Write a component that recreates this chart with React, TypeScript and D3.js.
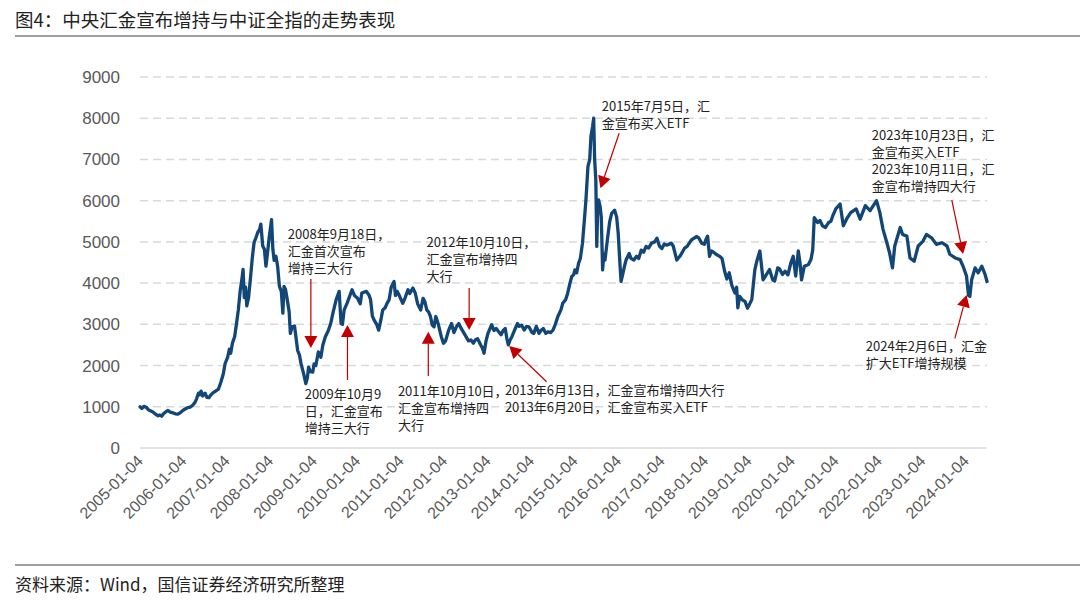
import React from "react";
import * as d3 from "d3";

const TITLE = "图4：中央汇金宣布增持与中证全指的走势表现";
const SOURCE = "资料来源：Wind，国信证券经济研究所整理";

const yTicks = [0, 1000, 2000, 3000, 4000, 5000, 6000, 7000, 8000, 9000];
const xTickLabels = [
  "2005-01-04", "2006-01-04", "2007-01-04", "2008-01-04", "2009-01-04",
  "2010-01-04", "2011-01-04", "2012-01-04", "2013-01-04", "2014-01-04",
  "2015-01-04", "2016-01-04", "2017-01-04", "2018-01-04", "2019-01-04",
  "2020-01-04", "2021-01-04", "2022-01-04", "2023-01-04", "2024-01-04",
];

// 中证全指
const dates2005_2009 = [
  "2005-01-04", "2005-01-20", "2005-02-05", "2005-02-25", "2005-03-15", "2005-04-05", "2005-04-25", "2005-05-15",
  "2005-06-05", "2005-06-20", "2005-07-05", "2005-07-20", "2005-08-10", "2005-08-25", "2005-09-15", "2005-10-10",
  "2005-10-28", "2005-11-15", "2005-12-05", "2005-12-25", "2006-01-15", "2006-02-10", "2006-03-01", "2006-03-20",
  "2006-04-10", "2006-04-25", "2006-05-10", "2006-05-20", "2006-06-01", "2006-06-15", "2006-07-05", "2006-07-20",
  "2006-08-05", "2006-08-25", "2006-09-15", "2006-10-10", "2006-10-25", "2006-11-15", "2006-12-05", "2006-12-20",
  "2007-01-10", "2007-01-25", "2007-02-05", "2007-02-20", "2007-03-10", "2007-03-25", "2007-04-10", "2007-04-25",
  "2007-05-10", "2007-05-20", "2007-05-30", "2007-06-10", "2007-06-20", "2007-07-05", "2007-07-20", "2007-08-05",
  "2007-08-20", "2007-09-05", "2007-09-20", "2007-10-05", "2007-10-16", "2007-11-01", "2007-11-15", "2007-11-28",
  "2007-12-10", "2007-12-25", "2008-01-14", "2008-01-25", "2008-02-05", "2008-02-20", "2008-03-05", "2008-03-20",
  "2008-04-05", "2008-04-18", "2008-04-28", "2008-05-10", "2008-05-25", "2008-06-10", "2008-06-20", "2008-07-05",
  "2008-07-25", "2008-08-10", "2008-08-20", "2008-09-05", "2008-09-18", "2008-10-10", "2008-10-28", "2008-11-10",
  "2008-11-20", "2008-12-05", "2008-12-25", "2009-01-05", "2009-01-20", "2009-02-10", "2009-03-03", "2009-03-20",
  "2009-04-10", "2009-05-05", "2009-05-25", "2009-06-15", "2009-07-10", "2009-08-04", "2009-08-20", "2009-09-01",
  "2009-09-15", "2009-10-09", "2009-11-20", "2009-12-10",
];
const values2005_2009 = [
  1000, 960, 1010, 990, 930, 900, 870, 820,
  780, 800, 770, 830, 880, 910, 870, 850,
  830, 820, 850, 900, 940, 980, 990, 1030,
  1100, 1200, 1330, 1290, 1380, 1260, 1330, 1230,
  1220, 1300, 1350, 1400, 1430, 1600, 1800, 2050,
  2200, 2400, 2300, 2550, 2700, 3000, 3350, 3800,
  4100, 4330, 3650, 3900, 3450, 3650, 4090, 4600,
  4980, 5100, 5230, 5300, 5430, 4900, 4820, 4410,
  4700, 5100, 5540, 4820, 4550, 4650, 4410, 3920,
  3800, 3270, 3920, 3850, 3600, 3300, 2780, 2940,
  2960, 2600, 2370, 2250, 2040, 1800, 1560, 1700,
  1960, 1850, 1840, 2040, 2000, 2330, 2200, 2500,
  2700, 2850, 3020, 3300, 3600, 3800, 3020, 3000,
  3350, 3510, 3840, 3700,
];

const dates2010_2014 = [
  "2010-01-04", "2010-01-28", "2010-02-10", "2010-03-20", "2010-04-10", "2010-04-25", "2010-05-10", "2010-05-25",
  "2010-06-15", "2010-07-02", "2010-07-20", "2010-08-05", "2010-08-25", "2010-09-10", "2010-09-28", "2010-10-15",
  "2010-11-08", "2010-11-20", "2010-12-05", "2010-12-25", "2011-01-20", "2011-02-10", "2011-03-05", "2011-03-20",
  "2011-04-15", "2011-05-05", "2011-05-25", "2011-06-20", "2011-07-10", "2011-07-25", "2011-08-10", "2011-08-25",
  "2011-09-10", "2011-09-25", "2011-10-10", "2011-10-25", "2011-11-15", "2011-12-10", "2011-12-28", "2012-01-15",
  "2012-02-10", "2012-03-05", "2012-03-25", "2012-04-15", "2012-05-05", "2012-05-25", "2012-06-15", "2012-07-05",
  "2012-07-25", "2012-08-15", "2012-09-05", "2012-09-20", "2012-10-10", "2012-11-05", "2012-11-20", "2012-12-03",
  "2012-12-20", "2013-01-05", "2013-02-05", "2013-02-25", "2013-03-15", "2013-04-05", "2013-04-25", "2013-05-15",
  "2013-05-30", "2013-06-13", "2013-06-25", "2013-07-10", "2013-07-25", "2013-08-15", "2013-09-10", "2013-09-25",
  "2013-10-15", "2013-11-05", "2013-11-25", "2013-12-15", "2014-01-10", "2014-01-25", "2014-02-15", "2014-03-10",
  "2014-03-25", "2014-04-15", "2014-05-05", "2014-05-25", "2014-06-15", "2014-07-05", "2014-07-25", "2014-08-15",
  "2014-09-10", "2014-09-25", "2014-10-20", "2014-11-05", "2014-11-25", "2014-12-10", "2014-12-25",
];
const values2010_2014 = [
  3640, 3500, 3760, 3800, 3720, 3600, 3200, 3100,
  3000, 2860, 3100, 3350, 3400, 3510, 3600, 3900,
  4040, 3700, 3800, 3680, 3510, 3650, 3840, 3750,
  3880, 3760, 3500, 3350, 3630, 3550, 3350, 3300,
  3190, 2980, 2940, 3190, 3000, 2700, 2540, 2600,
  2860, 3020, 2800, 2940, 3020, 2900, 2800, 2700,
  2600, 2620, 2540, 2620, 2650, 2500, 2420, 2300,
  2600, 2780, 2990, 2850, 2900, 2820, 2750, 2860,
  2900, 2650, 2500, 2620, 2700, 2850, 3020, 2950,
  2980, 2860, 2950, 2940, 2800, 2780, 2950, 2780,
  2850, 2900, 2780, 2820, 2800, 2860, 3000, 3190,
  3350, 3510, 3600, 3750, 4000, 4160, 4200,
];

const dates2015_2019 = [
  "2015-01-05", "2015-01-20", "2015-02-05", "2015-02-20", "2015-03-10", "2015-03-25", "2015-04-08", "2015-04-25",
  "2015-05-10", "2015-05-20", "2015-06-03", "2015-06-12", "2015-06-20", "2015-06-30", "2015-07-08", "2015-07-15",
  "2015-07-23", "2015-08-05", "2015-08-15", "2015-08-26", "2015-09-05", "2015-09-15", "2015-10-05", "2015-10-25",
  "2015-11-10", "2015-12-05", "2015-12-22", "2016-01-04", "2016-01-20", "2016-01-28", "2016-02-10", "2016-02-25",
  "2016-03-10", "2016-04-05", "2016-04-20", "2016-05-15", "2016-06-05", "2016-06-25", "2016-07-15", "2016-08-05",
  "2016-08-25", "2016-09-15", "2016-10-10", "2016-11-05", "2016-11-25", "2016-12-15", "2017-01-05", "2017-01-25",
  "2017-02-15", "2017-03-25", "2017-04-10", "2017-05-10", "2017-06-05", "2017-06-20", "2017-07-15", "2017-08-05",
  "2017-09-10", "2017-10-25", "2017-11-10", "2017-12-05", "2017-12-28", "2018-01-10", "2018-01-24", "2018-02-09",
  "2018-02-25", "2018-03-15", "2018-04-05", "2018-05-05", "2018-05-25", "2018-06-15", "2018-07-05", "2018-07-25",
  "2018-08-15", "2018-09-10", "2018-09-25", "2018-10-05", "2018-10-20", "2018-11-10", "2018-12-05", "2018-12-25",
  "2019-01-05", "2019-01-30", "2019-02-25", "2019-03-15", "2019-04-08", "2019-05-05", "2019-05-25", "2019-06-28",
  "2019-07-25", "2019-08-10", "2019-09-05", "2019-09-20", "2019-10-15", "2019-11-05", "2019-11-30", "2019-12-25",
];
const values2015_2019 = [
  4320, 4250, 4480, 4600, 4970, 5500, 6020, 6830,
  7000, 7560, 7800, 8000, 7000, 6500, 4890, 5700,
  6020, 5860, 5600, 4320, 4700, 4560, 5050, 5500,
  5690, 5770, 5600, 5210, 4400, 4040, 4200, 4400,
  4560, 4720, 4600, 4560, 4650, 4600, 4800, 4750,
  4890, 4850, 4970, 5000, 5090, 4900, 4840, 4950,
  4920, 4970, 4900, 4560, 4650, 4720, 4850, 4890,
  5050, 5130, 5100, 4970, 4940, 5060, 5140, 4650,
  4780, 4750, 4700, 4650, 4600, 4300, 4100, 4250,
  3950, 3760, 3900, 3400, 3680, 3600, 3550, 3390,
  3450, 3600, 4330, 4550, 4780, 4080, 4170, 4330,
  4080, 4050, 4370, 4350, 4210, 4290, 4200, 4500,
];

const dates2020_2024 = [
  "2020-01-13", "2020-02-03", "2020-02-25", "2020-03-10", "2020-03-23", "2020-04-15", "2020-05-20", "2020-06-10",
  "2020-06-25", "2020-07-08", "2020-08-05", "2020-08-25", "2020-09-15", "2020-10-10", "2020-11-05", "2020-11-25",
  "2020-12-10", "2021-01-05", "2021-02-10", "2021-03-09", "2021-04-05", "2021-05-10", "2021-06-25", "2021-07-28",
  "2021-09-10", "2021-10-20", "2021-12-13", "2022-01-10", "2022-02-05", "2022-03-10", "2022-04-01", "2022-04-26",
  "2022-05-15", "2022-06-30", "2022-07-20", "2022-08-25", "2022-09-20", "2022-10-25", "2022-11-28", "2023-01-08",
  "2023-02-05", "2023-03-20", "2023-04-30", "2023-06-15", "2023-07-28", "2023-08-20", "2023-10-05", "2023-11-15",
  "2023-12-10", "2024-01-08", "2024-01-25", "2024-02-05", "2024-02-20", "2024-03-20", "2024-04-15", "2024-05-15",
  "2024-06-12", "2024-06-28",
];
const values2020_2024 = [
  4650, 4170, 4780, 4500, 4080, 4410, 4450, 4570,
  4800, 5590, 5470, 5520, 5390, 5350, 5470, 5500,
  5630, 5800, 5920, 5390, 5550, 5710, 5800, 5550,
  5880, 5760, 6000, 5710, 5310, 4980, 4740, 4370,
  4900, 5350, 5180, 5140, 4610, 4530, 4900, 5020,
  5180, 5100, 4940, 4980, 4900, 4700, 4610, 4570,
  4410, 4170, 3700, 3680, 4080, 4370, 4250, 4410,
  4210, 4040,
];

// Annotations: text anchor (year fraction, value of first baseline), arrow from/to in data units
const annotationTexts = [
  ["2008年9月18日，", "汇金首次宣布", "增持三大行"],
  ["2009年10月9", "日，汇金宣布", "增持三大行"],
  ["2011年10月10日，", "汇金宣布增持四", "大行"],
  ["2012年10月10日，", "汇金宣布增持四", "大行"],
  ["2013年6月13日，汇金宣布增持四大行", "2013年6月20日，汇金宣布买入ETF"],
  ["2015年7月5日，汇", "金宣布买入ETF"],
  ["2023年10月23日，汇", "金宣布买入ETF", "2023年10月11日，汇", "金宣布增持四大行"],
  ["2024年2月6日，汇金", "扩大ETF增持规模"],
];
const annotationTextAt = [
  [2008.41, 5082], [2008.8, 1177], [2010.94, 1261], [2011.6, 4864],
  [2013.4, 1281], [2015.63, 8170], [2021.84, 7467], [2021.7, 2365],
];
const arrowFrom = [
  [2008.94, 4100], [2009.78, 1650], [2011.64, 1747], [2012.58, 3881],
  [2014.36, 1608], [2016.03, 7634], [2023.68, 6016], [2023.75, 2661],
];
const arrowTo = [
  [2008.94, 2426], [2009.78, 2984], [2011.64, 2821], [2012.58, 2863],
  [2013.5, 2474], [2015.6, 6300], [2023.94, 4706], [2024.02, 3712],
];

const parse = d3.timeParse("%Y-%m-%d");
const fromYear = (f: number) => {
  const y = Math.floor(f);
  const start = new Date(y, 0, 1).getTime();
  return new Date(start + (f - y) * 365.25 * 864e5);
};

export default function App() {
  const W = 1080, H = 605;
  const allDates = [...dates2005_2009, ...dates2010_2014, ...dates2015_2019, ...dates2020_2024].map((s) => parse(s) as Date);
  const allValues = [...values2005_2009, ...values2010_2014, ...values2015_2019, ...values2020_2024];
  const data = allDates.map((d, i) => ({ d, v: allValues[i] }));

  const x = d3.scaleTime().domain([parse("2005-01-04") as Date, parse("2024-06-28") as Date]).range([140, 987]);
  const y = d3.scaleLinear().domain([0, 9000]).range([448, 77]);

  const line = d3.line<{ d: Date; v: number }>().x((p) => x(p.d)).y((p) => y(p.v)).curve(d3.curveLinear);

  const cjk = "'Noto Sans CJK SC', 'Noto Sans', sans-serif";
  const sans = "'Liberation Sans', Arial, sans-serif";
  const red = "#C00000";

  const arrows = arrowFrom.map((f, i) => {
    const x1 = x(fromYear(f[0])), y1 = y(f[1]);
    const x2 = x(fromYear(arrowTo[i][0])), y2 = y(arrowTo[i][1]);
    const dx = x2 - x1, dy = y2 - y1;
    const len = Math.hypot(dx, dy);
    const ux = dx / len, uy = dy / len;
    const hl = 12, hw = 6.5;
    const bx = x2 - ux * hl, by = y2 - uy * hl;
    const pts = [
      [x2, y2],
      [bx - uy * hw, by + ux * hw],
      [bx + uy * hw, by - ux * hw],
    ];
    return { x1, y1, bx, by, pts };
  });

  return (
    <svg width={W} height={H} style={{ position: "absolute", left: 0, top: 0, background: "#fff" }}>
      <rect x={0} y={0} width={W} height={H} fill="#fff" />
      {/* title */}
      <text x={15} y={27} fontFamily={cjk} fontSize={18.5} fill="#222">{TITLE}</text>
      <line x1={15} x2={1080} y1={36} y2={36} stroke="#7f7f7f" strokeWidth={1.5} />

      {/* gridlines */}
      {yTicks.filter((t) => t > 0).map((t) => (
        <line key={t} x1={140} x2={987} y1={y(t)} y2={y(t)} stroke="#d9d9d9" strokeWidth={1.5} strokeDasharray="8,5" />
      ))}
      <line x1={140} x2={987} y1={y(0)} y2={y(0)} stroke="#d9d9d9" strokeWidth={1.5} />

      {/* y labels */}
      {yTicks.map((t) => (
        <text key={t} x={120} y={y(t)} dy="0.35em" textAnchor="end" fontFamily={sans} fontSize={17} fill="#595959">{t}</text>
      ))}

      {/* x labels */}
      {xTickLabels.map((s) => {
        const px = x(parse(s) as Date);
        return (
          <text key={s} transform={`translate(${px + 4},${462}) rotate(-45)`} textAnchor="end" fontFamily={sans} fontSize={16} fill="#595959">{s}</text>
        );
      })}

      {/* series */}
      <path d={line(data) || ""} fill="none" stroke="#124677" strokeWidth={3.3} strokeLinejoin="round" strokeLinecap="round" />

      {/* arrows */}
      {arrows.map((a, i) => (
        <g key={i}>
          <line x1={a.x1} y1={a.y1} x2={a.bx} y2={a.by} stroke={red} strokeWidth={1.2} />
          <polygon points={a.pts.map((p) => p.join(",")).join(" ")} fill={red} />
        </g>
      ))}

      {/* annotation texts */}
      {annotationTexts.map((lines, i) => (
        <text key={i} x={x(fromYear(annotationTextAt[i][0]))} y={y(annotationTextAt[i][1])} fontFamily={cjk} fontSize={13} fill="#222">
          {lines.map((l, j) => (
            <tspan key={j} x={x(fromYear(annotationTextAt[i][0]))} dy={j === 0 ? 0 : 17}>{l}</tspan>
          ))}
        </text>
      ))}

      {/* footer */}
      <line x1={15} x2={1080} y1={565} y2={565} stroke="#7f7f7f" strokeWidth={1.5} />
      <text x={15} y={591} fontFamily={cjk} fontSize={17} fill="#222">{SOURCE}</text>
    </svg>
  );
}
